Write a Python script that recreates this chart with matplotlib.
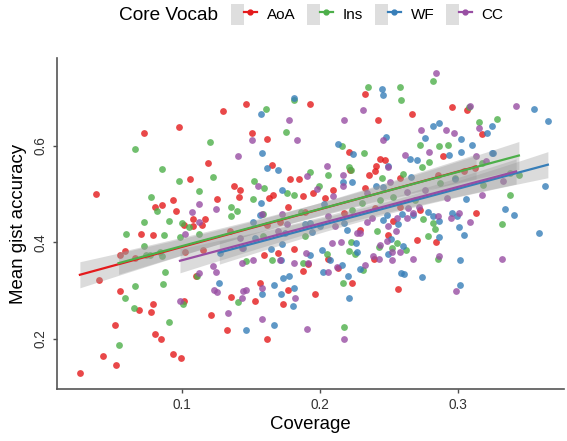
import numpy as np
import matplotlib.pyplot as plt
from matplotlib.lines import Line2D
from matplotlib.patches import Patch
from matplotlib.legend_handler import HandlerTuple

plt.rcParams['font.family'] = ['Liberation Sans', 'DejaVu Sans']

groups = ['AoA', 'Ins', 'WF', 'CC']
colors = {'AoA': '#E41A1C', 'Ins': '#4DAF4A', 'WF': '#377EB8', 'CC': '#984EA3'}

aoa_x = [0.038, 0.0727, 0.098, 0.1295, 0.1464, 0.1505, 0.1616, 0.1186, 0.1058, 0.1379,
         0.1422, 0.1413, 0.0933, 0.0804, 0.0855, 0.0957, 0.1251, 0.165, 0.1785, 0.1846,
         0.1657, 0.1633, 0.1768, 0.1879, 0.1928, 0.1082, 0.1167, 0.2326, 0.242, 0.2667,
         0.2954, 0.3063, 0.3172, 0.2893, 0.2208, 0.2435, 0.2471, 0.2406, 0.2399, 0.2353,
         0.2217, 0.2096, 0.2036, 0.1951, 0.2326, 0.258, 0.313, 0.0261, 0.043, 0.0522,
         0.0517, 0.0804, 0.0846, 0.0937, 0.0991, 0.0396, 0.0551, 0.0686, 0.0778, 0.0788,
         0.1014, 0.121, 0.1328, 0.1353, 0.1531, 0.1565, 0.1616, 0.1734, 0.1768, 0.1879,
         0.1812, 0.1693, 0.1596, 0.1101, 0.0701, 0.0788, 0.0551, 0.0587, 0.1014, 0.1082,
         0.1143, 0.2531, 0.2495, 0.2292, 0.2701, 0.2841, 0.2056, 0.1915, 0.2128, 0.2234,
         0.1964, 0.2563, 0.2393, 0.1154, 0.1022, 0.1614, 0.171, 0.1348, 0.217, 0.2399,
         0.258, 0.2857, 0.3123, 0.3039, 0.0659, 0.2725, 0.189]
aoa_y = [0.501, 0.627, 0.639, 0.672, 0.687, 0.627, 0.6145, 0.564, 0.532, 0.516,
         0.508, 0.494, 0.487, 0.474, 0.477, 0.465, 0.489, 0.561, 0.532, 0.532,
         0.499, 0.491, 0.474, 0.496, 0.686, 0.449, 0.449, 0.707, 0.653, 0.666,
         0.680, 0.675, 0.624, 0.578, 0.588, 0.573, 0.570, 0.559, 0.547, 0.540,
         0.550, 0.509, 0.493, 0.502, 0.512, 0.533, 0.461, 0.129, 0.165, 0.147,
         0.228, 0.211, 0.199, 0.168, 0.160, 0.323, 0.300, 0.260, 0.255, 0.273,
         0.279, 0.249, 0.218, 0.286, 0.279, 0.317, 0.199, 0.273, 0.301, 0.340,
         0.387, 0.378, 0.373, 0.331, 0.418, 0.416, 0.374, 0.383, 0.436, 0.434,
         0.436, 0.445, 0.415, 0.426, 0.405, 0.400, 0.366, 0.355, 0.348, 0.317,
         0.293, 0.303, 0.365, 0.385, 0.381, 0.436, 0.443, 0.423, 0.461, 0.471,
         0.474, 0.540, 0.554, 0.547, 0.367, 0.468, 0.462]

ins_x = [0.0659, 0.0855, 0.098, 0.1203, 0.1227, 0.1125, 0.0778, 0.0821, 0.1355, 0.1396,
         0.1353, 0.1609, 0.1754, 0.1524, 0.1592, 0.1514, 0.1761, 0.1812, 0.1812, 0.2346,
         0.258, 0.2587, 0.2817, 0.3082, 0.315, 0.3283, 0.2725, 0.286, 0.2925, 0.2792,
         0.2741, 0.2319, 0.2157, 0.1928, 0.2056, 0.1995, 0.2212, 0.2225, 0.2447, 0.2604,
         0.3377, 0.3444, 0.2744, 0.0546, 0.0585, 0.0652, 0.0659, 0.0864, 0.0879, 0.0904,
         0.1005, 0.1406, 0.1111, 0.1462, 0.165, 0.1875, 0.0592, 0.0727, 0.0727, 0.0872,
         0.0904, 0.0986, 0.1053, 0.1125, 0.0998, 0.1589, 0.1589, 0.1862, 0.0739, 0.3319,
         0.2817, 0.2833, 0.2785, 0.2413, 0.2428, 0.2556, 0.2621, 0.2225, 0.221, 0.2251,
         0.2312, 0.2049, 0.2164, 0.2174, 0.2853, 0.2522, 0.1891, 0.2302, 0.2435, 0.2531,
         0.2688, 0.287, 0.2978, 0.3172, 0.3183, 0.3377, 0.0768, 0.0841, 0.0853, 0.223]
ins_y = [0.593, 0.552, 0.528, 0.608, 0.535, 0.506, 0.494, 0.465, 0.474, 0.465,
         0.455, 0.677, 0.629, 0.528, 0.513, 0.490, 0.503, 0.499, 0.694, 0.722,
         0.722, 0.695, 0.735, 0.681, 0.649, 0.656, 0.602, 0.600, 0.602, 0.567,
         0.557, 0.586, 0.600, 0.545, 0.540, 0.517, 0.557, 0.550, 0.533, 0.542,
         0.499, 0.540, 0.448, 0.187, 0.284, 0.264, 0.310, 0.313, 0.339, 0.235,
         0.273, 0.277, 0.331, 0.362, 0.364, 0.358, 0.418, 0.443, 0.392, 0.416,
         0.445, 0.412, 0.431, 0.418, 0.441, 0.414, 0.458, 0.464, 0.374, 0.439,
         0.441, 0.428, 0.414, 0.423, 0.390, 0.398, 0.385, 0.400, 0.383, 0.376,
         0.342, 0.376, 0.315, 0.225, 0.365, 0.388, 0.414, 0.481, 0.488, 0.495,
         0.488, 0.523, 0.533, 0.564, 0.519, 0.543, 0.374, 0.381, 0.371, 0.468]

wf_x = [0.1812, 0.1572, 0.1582, 0.1616, 0.1693, 0.1727, 0.1572, 0.2447, 0.2454, 0.3553,
        0.3654, 0.3246, 0.3208, 0.2862, 0.2821, 0.2759, 0.3022, 0.3099, 0.3022, 0.2937,
        0.3249, 0.2478, 0.2133, 0.2241, 0.2652, 0.2701, 0.2491, 0.2164, 0.2234, 0.2406,
        0.2459, 0.3630, 0.3343, 0.3401, 0.3056, 0.2991, 0.2954, 0.2785, 0.2592, 0.2483,
        0.2657, 0.2978, 0.127, 0.1464, 0.1667, 0.1582, 0.1667, 0.1715, 0.1734, 0.1775,
        0.1812, 0.1802, 0.1715, 0.1645, 0.1722, 0.3587, 0.3005, 0.3039, 0.3014, 0.3014,
        0.2862, 0.286, 0.2817, 0.2563, 0.2514, 0.249, 0.2599, 0.2609, 0.2589, 0.2741,
        0.2261, 0.2268, 0.2201, 0.2292, 0.2159, 0.2075, 0.2014, 0.2024, 0.193, 0.221,
        0.1889, 0.1944, 0.2176, 0.2031, 0.1275, 0.144, 0.1517, 0.153, 0.1565, 0.1746,
        0.193, 0.2, 0.2193, 0.2459, 0.2676, 0.3244]
wf_y = [0.699, 0.666, 0.585, 0.555, 0.550, 0.509, 0.482, 0.718, 0.705, 0.677,
        0.651, 0.641, 0.627, 0.647, 0.641, 0.617, 0.614, 0.601, 0.588, 0.581,
        0.586, 0.619, 0.603, 0.583, 0.572, 0.571, 0.559, 0.526, 0.525, 0.517,
        0.515, 0.516, 0.470, 0.456, 0.490, 0.455, 0.461, 0.462, 0.459, 0.457,
        0.535, 0.532, 0.315, 0.218, 0.230, 0.294, 0.311, 0.294, 0.327, 0.331,
        0.305, 0.268, 0.364, 0.386, 0.396, 0.419, 0.431, 0.416, 0.363, 0.312,
        0.445, 0.412, 0.454, 0.439, 0.407, 0.376, 0.393, 0.334, 0.337, 0.329,
        0.398, 0.381, 0.331, 0.344, 0.354, 0.363, 0.385, 0.339, 0.373, 0.284,
        0.438, 0.421, 0.441, 0.479, 0.379, 0.388, 0.443, 0.409, 0.457, 0.419,
        0.440, 0.433, 0.426, 0.447, 0.457, 0.585]

cc_x = [0.1775, 0.1836, 0.1505, 0.1406, 0.1549, 0.1125, 0.1244, 0.1075, 0.1906, 0.1727,
        0.1582, 0.2843, 0.3089, 0.3418, 0.2309, 0.2174, 0.2454, 0.2732, 0.2911, 0.2971,
        0.2792, 0.313, 0.315, 0.2616, 0.2049, 0.2169, 0.2495, 0.2507, 0.2164, 0.198,
        0.2092, 0.3172, 0.3324, 0.2857, 0.3007, 0.2676, 0.2628, 0.206, 0.3201, 0.0986,
        0.1125, 0.1227, 0.1244, 0.1232, 0.1251, 0.144, 0.1464, 0.1433, 0.1336, 0.1582,
        0.1582, 0.1819, 0.1904, 0.1512, 0.1433, 0.171, 0.1814, 0.1896, 0.1022, 0.1763,
        0.1125, 0.3089, 0.2947, 0.3317, 0.2988, 0.2676, 0.2860, 0.2715, 0.264, 0.2549,
        0.2495, 0.2437, 0.2488, 0.252, 0.2522, 0.2428, 0.2386, 0.2326, 0.2123, 0.2089,
        0.215, 0.2268, 0.229, 0.2058, 0.1915, 0.2174, 0.258, 0.142, 0.1433, 0.1698,
        0.2338, 0.2338, 0.2375, 0.2556, 0.2918, 0.2109, 0.2628, 0.2761]
cc_y = [0.654, 0.612, 0.612, 0.579, 0.516, 0.480, 0.470, 0.463, 0.538, 0.459,
        0.459, 0.750, 0.683, 0.683, 0.675, 0.653, 0.612, 0.632, 0.632, 0.627,
        0.588, 0.578, 0.637, 0.581, 0.559, 0.540, 0.556, 0.526, 0.516, 0.510,
        0.497, 0.499, 0.528, 0.454, 0.461, 0.461, 0.450, 0.455, 0.569, 0.279,
        0.337, 0.352, 0.339, 0.301, 0.298, 0.300, 0.301, 0.284, 0.254, 0.305,
        0.242, 0.284, 0.221, 0.363, 0.358, 0.364, 0.358, 0.378, 0.417, 0.438,
        0.442, 0.443, 0.451, 0.365, 0.300, 0.365, 0.372, 0.474, 0.472, 0.424,
        0.434, 0.395, 0.402, 0.381, 0.363, 0.365, 0.371, 0.354, 0.349, 0.398,
        0.400, 0.419, 0.419, 0.339, 0.357, 0.199, 0.381, 0.409, 0.388, 0.423,
        0.502, 0.443, 0.450, 0.450, 0.492, 0.433, 0.505, 0.509]

# fitted trend lines (AoA, Ins, WF, CC)
fit_x0 = [0.026, 0.054, 0.127, 0.0985]
fit_x1 = [0.313, 0.344, 0.365, 0.342]
fit_y0 = [0.333, 0.357, 0.379, 0.362]
fit_y1 = [0.557, 0.580, 0.561, 0.547]
# confidence band half-widths: left end, narrowest, right end
band_lo = [0.027, 0.023, 0.024, 0.025]
band_mid = [0.013, 0.013, 0.013, 0.013]
band_hi = [0.026, 0.029, 0.027, 0.026]

data = {'AoA': (aoa_x, aoa_y), 'Ins': (ins_x, ins_y),
        'WF': (wf_x, wf_y), 'CC': (cc_x, cc_y)}


def trend_band(i, n_pts=80):
    xs = np.linspace(fit_x0[i], fit_x1[i], n_pts)
    u = (xs - fit_x0[i]) / (fit_x1[i] - fit_x0[i]) * 2 - 1
    fit = fit_y0[i] + (fit_y1[i] - fit_y0[i]) * (u + 1) / 2
    he = np.where(u < 0, band_lo[i], band_hi[i])
    hw = np.sqrt(band_mid[i] ** 2 + (he ** 2 - band_mid[i] ** 2) * u ** 2)
    return xs, fit, fit - hw, fit + hw


fig = plt.figure(figsize=(5.67, 4.41), dpi=100)
ax = fig.add_axes([0.1005, 0.118, 0.8945, 0.7505])

for g in groups:
    x, y = data[g]
    ax.scatter(x, y, s=24, color=colors[g], alpha=0.8, linewidths=0, zorder=2)

for i, g in enumerate(groups):
    xs, fit, lo, hi = trend_band(i)
    ax.fill_between(xs, lo, hi, color='#999999', alpha=0.35, linewidth=0, zorder=3)
    ax.plot(xs, fit, color=colors[g], lw=1.6, zorder=4)

ax.set_xlim(0.0094, 0.3768)
ax.set_ylim(0.0965, 0.782)
ax.set_xticks([0.1, 0.2, 0.3])
ax.set_yticks([0.2, 0.4, 0.6])
ax.set_xticklabels(['0.1', '0.2', '0.3'])
ax.set_yticklabels(['0.2', '0.4', '0.6'], rotation=90, va='center')
ax.tick_params(colors='#4D4D4D', labelcolor='#333333', labelsize=9.8, length=3, width=1)
ax.spines['top'].set_visible(False)
ax.spines['right'].set_visible(False)
for side in ['left', 'bottom']:
    ax.spines[side].set_color('#555555')
    ax.spines[side].set_linewidth(1.2)
ax.set_xlabel('Coverage', fontsize=13.4, labelpad=3)
ax.set_ylabel('Mean gist accuracy', fontsize=13.4, labelpad=5)

fig.text(119 / 567, 1 - 15 / 441, 'Core Vocab', fontsize=13.7, va='center', ha='left')
handles = []
for g in groups:
    handles.append((Patch(facecolor='#dedede', edgecolor='none'),
                    Line2D([], [], color=colors[g], lw=1.6, marker='o', markersize=3.5)))
fig.legend(handles, groups, handler_map={tuple: HandlerTuple(ndivide=None)},
           loc='center left', bbox_to_anchor=(231 / 567, 1 - 14.5 / 441),
           ncol=4, frameon=False, fontsize=11, borderpad=0, borderaxespad=0,
           handlelength=1.7, handleheight=1.76, handletextpad=0.65, columnspacing=0.75)

fig.savefig('out.png', dpi=100)
